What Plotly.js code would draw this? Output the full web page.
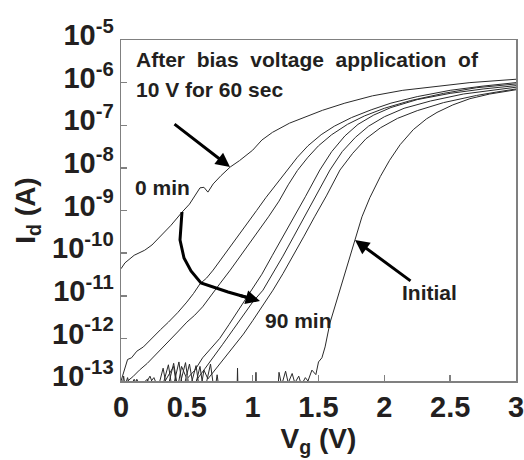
<!DOCTYPE html>
<html>
<head>
<meta charset="utf-8">
<script src="https://cdn.plot.ly/plotly-3.0.1.min.js"></script>
<style>html,body{margin:0;padding:0;background:#fff;}#chart{width:524px;height:460px;}</style>
</head>
<body>
<div id="chart"></div>
<script>
// ---- data (Vg in V, Id in A) ----
var vg0min = [0,0.03,0.1,0.18,0.235,0.3,0.38,0.463,0.52,0.6,0.63,0.66,0.7,0.76,0.83,0.9,1.0,1.07,1.15,1.28,1.4,1.53,1.7,1.91,2.14,2.4,2.65,3.0];
var id0min = [4.3e-11,5.9e-11,8.9e-11,1.17e-10,1.55e-10,2.5e-10,4.5e-10,9.1e-10,1.41e-9,3.4e-9,3.5e-9,2.7e-9,4.2e-9,6.6e-9,1.05e-8,1.48e-8,2.6e-8,4.5e-8,6.8e-8,1.12e-7,1.58e-7,2.24e-7,3.3e-7,4.9e-7,6.6e-7,8.3e-7,1.0e-6,1.2e-6];

var vgA = [0,0.02,0.05,0.08,0.12,0.17,0.24,0.3,0.36,0.43,0.5,0.55,0.6,0.65,0.7,0.76,0.83,0.9,0.96,1.03,1.1,1.18,1.26,1.34,1.42,1.52,1.62,1.75,1.9,2.05,2.25,2.5,2.75,3.0];
var idA = [1.0e-13,1.6e-13,3.2e-13,3.5e-13,5.0e-13,6.3e-13,1.07e-12,1.6e-12,2.4e-12,4.0e-12,7.1e-12,1.12e-11,1.9e-11,2.6e-11,4.0e-11,7.1e-11,1.41e-10,2.8e-10,4.8e-10,1.0e-9,2.0e-9,4.2e-9,8.9e-9,1.78e-8,3.3e-8,6.0e-8,9.5e-8,1.51e-7,2.3e-7,3.3e-7,4.7e-7,6.6e-7,8.3e-7,1.0e-6];

var vgB = [0,0.02,0.035,0.05,0.09,0.14,0.2,0.26,0.32,0.37,0.43,0.5,0.56,0.62,0.68,0.75,0.83,0.9,0.97,1.05,1.12,1.2,1.27,1.34,1.42,1.5,1.6,1.72,1.85,2.0,2.2,2.45,2.7,3.0];
var idB = [5e-14,1.3e-13,6e-14,1.0e-13,1.26e-13,1.8e-13,2.6e-13,4.0e-13,6.3e-13,9.1e-13,1.41e-12,2.4e-12,3.5e-12,5.5e-12,1.0e-11,1.9e-11,4.0e-11,7.9e-11,1.58e-10,3.5e-10,7.1e-10,1.66e-9,4.0e-9,8.7e-9,1.78e-8,3.3e-8,6.0e-8,1.05e-7,1.66e-7,2.5e-7,3.8e-7,5.6e-7,7.6e-7,9.3e-7];

var vgC = [0,0.05,0.08,0.12,0.16,0.22,0.27,0.32,0.35,0.4,0.43,0.46,0.5,0.56,0.62,0.68,0.75,0.82,0.9,0.995,1.07,1.15,1.23,1.31,1.4,1.51,1.6,1.7,1.8,1.92,2.05,2.25,2.5,2.75,3.0];
var idC = [4e-14,1.2e-13,5e-14,1.1e-13,6e-14,1.3e-13,5e-14,2e-13,6e-14,2.6e-13,7e-14,2.2e-13,1.12e-13,1.78e-13,3.5e-13,5.6e-13,1.0e-12,2.1e-12,5.0e-12,1.35e-11,3.2e-11,8.9e-11,2.4e-10,6.8e-10,2.1e-9,8.9e-9,2.4e-8,5.6e-8,1.05e-7,1.74e-7,2.6e-7,4.0e-7,5.6e-7,7.1e-7,8.5e-7];

var vgD = [0,0.1,0.15,0.25,0.3,0.36,0.39,0.44,0.47,0.52,0.55,0.58,0.64,0.7,0.77,0.85,0.93,1.0,1.078,1.15,1.23,1.31,1.39,1.48,1.587,1.68,1.78,1.88,2.0,2.15,2.35,2.6,2.8,3.0];
var idD = [3e-14,1.1e-13,5e-14,1.2e-13,5e-14,2.4e-13,6e-14,2.8e-13,6e-14,2.5e-13,7e-14,1.12e-13,2.0e-13,3.5e-13,7.1e-13,1.58e-12,3.5e-12,7.1e-12,1.35e-11,3.2e-11,8.5e-11,2.4e-10,6.8e-10,2.1e-9,8.9e-9,2.4e-8,5.2e-8,9.5e-8,1.58e-7,2.5e-7,3.7e-7,5.4e-7,6.6e-7,7.8e-7];

var vg90min = [0,0.2,0.26,0.4,0.43,0.49,0.52,0.57,0.6,0.63,0.66,0.72,0.78,0.85,0.93,1.0,1.08,1.154,1.23,1.31,1.39,1.47,1.56,1.663,1.76,1.86,1.97,2.1,2.25,2.45,2.7,2.85,3.0];
var id90min = [3e-14,1.1e-13,4e-14,2.2e-13,5e-14,2.7e-13,6e-14,2.3e-13,5e-14,1.8e-13,1.12e-13,1.9e-13,3.2e-13,6.0e-13,1.26e-12,2.6e-12,6.0e-12,1.35e-11,3.3e-11,8.9e-11,2.5e-10,7.1e-10,2.2e-9,8.9e-9,2.2e-8,4.8e-8,8.7e-8,1.45e-7,2.2e-7,3.4e-7,5.0e-7,6.0e-7,7.1e-7];

var vgInit = [0,0.55,0.6,0.63,0.68,0.71,0.73,0.75,0.88,0.885,0.89,1.02,1.025,1.03,1.19,1.2,1.22,1.25,1.27,1.3,1.32,1.35,1.37,1.4,1.42,1.45,1.48,1.5,1.526,1.55,1.587,1.63,1.686,1.73,1.777,1.83,1.89,1.97,2.04,2.12,2.22,2.32,2.4,2.52,2.65,2.8,3.0];
var idInit = [3e-14,5e-14,2.2e-13,5e-14,2.5e-13,5e-14,1.4e-13,5e-14,4e-14,2e-13,4e-14,4e-14,1.6e-13,4e-14,5e-14,1.6e-13,8e-14,1.7e-13,9e-14,1.5e-13,9e-14,1.3e-13,8e-14,1.2e-13,1.0e-13,1.8e-13,1.41e-13,2.8e-13,3.5e-13,6.3e-13,2.3e-12,6.3e-12,2.3e-11,7.1e-11,2.2e-10,7.1e-10,2.0e-9,6.3e-9,1.51e-8,3.5e-8,7.9e-8,1.41e-7,2.0e-7,3.0e-7,4.2e-7,5.4e-7,6.8e-7];

var yTickVals = [1e-13,1e-12,1e-11,1e-10,1e-9,1e-8,1e-7,1e-6,1e-5];
var yTickText = ['10<sup>-13</sup>','10<sup>-12</sup>','10<sup>-11</sup>','10<sup>-10</sup>','10<sup>-9</sup>','10<sup>-8</sup>','10<sup>-7</sup>','10<sup>-6</sup>','10<sup>-5</sup>'];
var xTickVals = [0,0.5,1,1.5,2,2.5,3];
var xTickText = ['0','0.5','1','1.5','2','2.5','3'];

// ---- drawing ----
var FONT = 'Liberation Sans, Arial, Helvetica, sans-serif';
var ink = '#231f20';
function curve(x, y) {
  return {x: x, y: y, type: 'scatter', mode: 'lines', line: {color: '#2a2a2a', width: 1}, hoverinfo: 'skip'};
}
var traces = [
  curve(vg0min, id0min), curve(vgA, idA), curve(vgB, idB), curve(vgC, idC),
  curve(vgD, idD), curve(vg90min, id90min), curve(vgInit, idInit)
];

var L = 121, R = 516, T = 40, B = 381;
function px(x) { return (x - L) / (R - L); }
function py(y) { return (B - y) / (B - T); }

var txt = {family: FONT, size: 21, color: ink, weight: 'bold'};
var annotations = [
  {xref:'paper', yref:'paper', x:px(134), y:py(60), xanchor:'left', yanchor:'middle', showarrow:false,
   text:'After\u00a0 bias\u00a0 voltage\u00a0 application\u00a0 of', font: txt},
  {xref:'paper', yref:'paper', x:px(134), y:py(89), xanchor:'left', yanchor:'middle', showarrow:false,
   text:'10 V for 60 sec', font: txt},
  {xref:'paper', yref:'paper', x:px(133), y:py(188), xanchor:'left', yanchor:'middle', showarrow:false,
   text:'0 min', font: txt},
  {xref:'paper', yref:'paper', x:px(263), y:py(320), xanchor:'left', yanchor:'middle', showarrow:false,
   text:'90 min', font: txt},
  {xref:'paper', yref:'paper', x:px(400), y:py(292), xanchor:'left', yanchor:'middle', showarrow:false,
   text:'Initial', font: txt},
  // arrows
  {xref:'paper', yref:'paper', x:px(230), y:py(167), ax:-57, ay:-44, text:'', showarrow:true,
   arrowhead:2, arrowsize:0.95, arrowwidth:3, arrowcolor:'#000'},
  {xref:'paper', yref:'paper', x:px(355), y:py(240), ax:57, ay:42, text:'', showarrow:true,
   arrowhead:2, arrowsize:0.95, arrowwidth:3, arrowcolor:'#000'},
  {xref:'paper', yref:'paper', x:px(260), y:py(301), ax:-22, ay:-6, text:'', showarrow:true,
   arrowhead:2, arrowsize:0.95, arrowwidth:3, arrowcolor:'#000'}
];

var pts = [[182,212],[180,240],[184,258],[191,271],[201,283],[228,292],[249,298]];
var path = pts.map(function(p, i){ return (i ? 'L' : 'M') + px(p[0]).toFixed(4) + ',' + py(p[1]).toFixed(4); }).join(' ');
var shapes = [{type:'path', xref:'paper', yref:'paper', path: path, line:{color:'#000', width:3}}];

var axisCommon = {
  showline: true, mirror: true, linecolor: '#808080', linewidth: 1.5,
  ticks: 'inside', ticklen: 6, tickwidth: 1.5, tickcolor: '#808080',
  showgrid: false, zeroline: false, ticklabeloverflow: 'allow',
  tickfont: {family: FONT, size: 29, color: ink, weight: 'bold'}
};

var layout = {
  width: 524, height: 460,
  margin: {l: L, r: 524 - R, t: T, b: 460 - B},
  paper_bgcolor: '#fff', plot_bgcolor: '#fff',
  showlegend: false, hovermode: false,
  font: {family: FONT, color: ink},
  xaxis: Object.assign({}, axisCommon, {
    range: [0, 3], tickvals: xTickVals, ticktext: xTickText,
    title: {text: 'V<sub>g</sub> (V)', font: {family: FONT, size: 28, color: ink, weight: 'bold'}, standoff: 2}
  }),
  yaxis: Object.assign({}, axisCommon, {
    type: 'log', range: [-13, -5], tickvals: yTickVals, ticktext: yTickText, ticklabelshift: -5,
    title: {text: 'I<sub>d</sub> (A)', font: {family: FONT, size: 28, color: ink, weight: 'bold'}, standoff: 8}
  }),
  annotations: annotations,
  shapes: shapes
};

Plotly.newPlot('chart', traces, layout, {staticPlot: true, displayModeBar: false});
</script>
</body>
</html>
